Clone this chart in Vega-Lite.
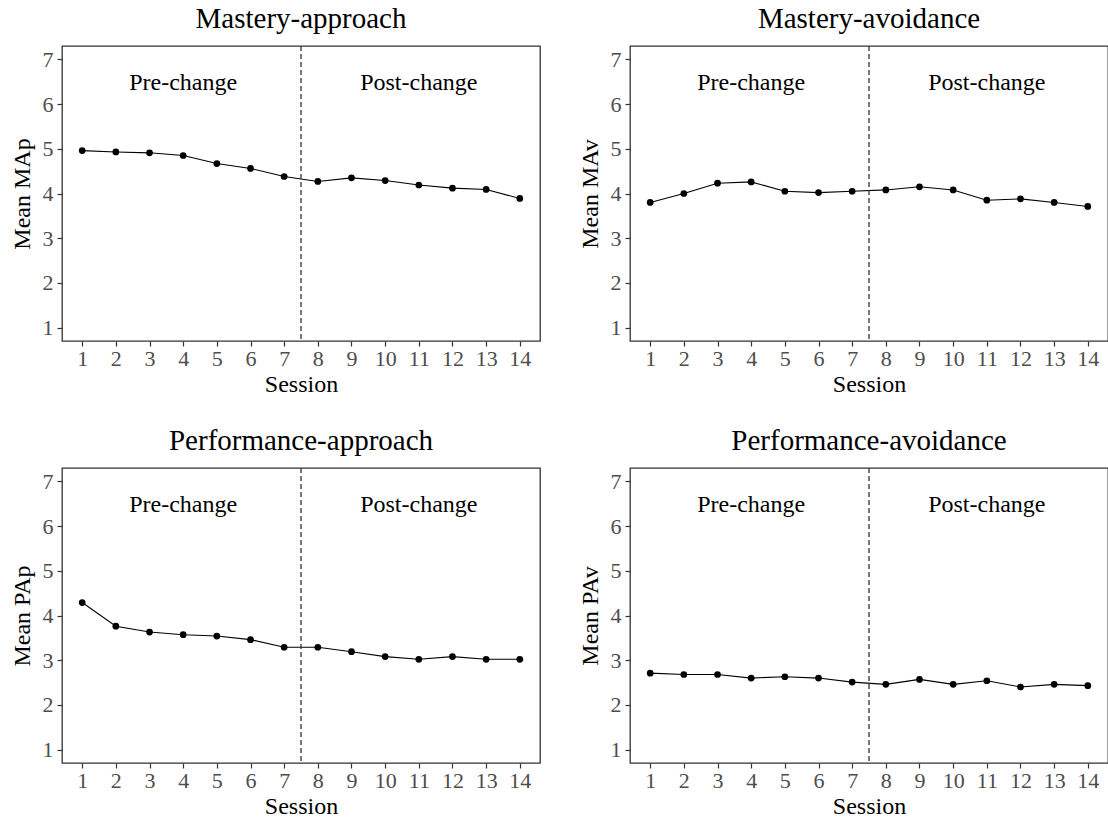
{
  "$schema": "https://vega.github.io/schema/vega-lite/v6.json",
  "padding": {"left": 9, "top": 4, "right": 0, "bottom": 0},
  "background": "white",
  "datasets": {
    "goals": [
      {"goal": "MAp", "session": 1, "mean": 4.96},
      {"goal": "MAp", "session": 2, "mean": 4.93},
      {"goal": "MAp", "session": 3, "mean": 4.91},
      {"goal": "MAp", "session": 4, "mean": 4.85},
      {"goal": "MAp", "session": 5, "mean": 4.67},
      {"goal": "MAp", "session": 6, "mean": 4.56},
      {"goal": "MAp", "session": 7, "mean": 4.38},
      {"goal": "MAp", "session": 8, "mean": 4.27},
      {"goal": "MAp", "session": 9, "mean": 4.35},
      {"goal": "MAp", "session": 10, "mean": 4.29},
      {"goal": "MAp", "session": 11, "mean": 4.19},
      {"goal": "MAp", "session": 12, "mean": 4.12},
      {"goal": "MAp", "session": 13, "mean": 4.09},
      {"goal": "MAp", "session": 14, "mean": 3.89},
      {"goal": "MAv", "session": 1, "mean": 3.80},
      {"goal": "MAv", "session": 2, "mean": 4.00},
      {"goal": "MAv", "session": 3, "mean": 4.23},
      {"goal": "MAv", "session": 4, "mean": 4.26},
      {"goal": "MAv", "session": 5, "mean": 4.05},
      {"goal": "MAv", "session": 6, "mean": 4.02},
      {"goal": "MAv", "session": 7, "mean": 4.05},
      {"goal": "MAv", "session": 8, "mean": 4.08},
      {"goal": "MAv", "session": 9, "mean": 4.15},
      {"goal": "MAv", "session": 10, "mean": 4.08},
      {"goal": "MAv", "session": 11, "mean": 3.85},
      {"goal": "MAv", "session": 12, "mean": 3.88},
      {"goal": "MAv", "session": 13, "mean": 3.80},
      {"goal": "MAv", "session": 14, "mean": 3.71},
      {"goal": "PAp", "session": 1, "mean": 4.29},
      {"goal": "PAp", "session": 2, "mean": 3.76},
      {"goal": "PAp", "session": 3, "mean": 3.63},
      {"goal": "PAp", "session": 4, "mean": 3.57},
      {"goal": "PAp", "session": 5, "mean": 3.54},
      {"goal": "PAp", "session": 6, "mean": 3.46},
      {"goal": "PAp", "session": 7, "mean": 3.29},
      {"goal": "PAp", "session": 8, "mean": 3.29},
      {"goal": "PAp", "session": 9, "mean": 3.19},
      {"goal": "PAp", "session": 10, "mean": 3.08},
      {"goal": "PAp", "session": 11, "mean": 3.02},
      {"goal": "PAp", "session": 12, "mean": 3.08},
      {"goal": "PAp", "session": 13, "mean": 3.02},
      {"goal": "PAp", "session": 14, "mean": 3.02},
      {"goal": "PAv", "session": 1, "mean": 2.71},
      {"goal": "PAv", "session": 2, "mean": 2.68},
      {"goal": "PAv", "session": 3, "mean": 2.68},
      {"goal": "PAv", "session": 4, "mean": 2.60},
      {"goal": "PAv", "session": 5, "mean": 2.63},
      {"goal": "PAv", "session": 6, "mean": 2.60},
      {"goal": "PAv", "session": 7, "mean": 2.51},
      {"goal": "PAv", "session": 8, "mean": 2.46},
      {"goal": "PAv", "session": 9, "mean": 2.57},
      {"goal": "PAv", "session": 10, "mean": 2.46},
      {"goal": "PAv", "session": 11, "mean": 2.54},
      {"goal": "PAv", "session": 12, "mean": 2.40},
      {"goal": "PAv", "session": 13, "mean": 2.46},
      {"goal": "PAv", "session": 14, "mean": 2.43}
    ]
  },
  "columns": 2,
  "spacing": {"row": 29, "column": 36},
  "concat": [
    {
      "title": "Mastery-approach",
      "width": 478, "height": 295,
      "layer": [
        {"data": {"name": "goals"}, "transform": [{"filter": "datum.goal === 'MAp'"}], "mark": {"type": "line", "color": "black", "strokeWidth": 1.1},
         "encoding": {
           "x": {"field": "session", "type": "quantitative", "scale": {"domain": [0.4, 14.6], "nice": false, "zero": false}, "axis": {"values": [1,2,3,4,5,6,7,8,9,10,11,12,13,14], "labelOverlap": false, "title": "Session"}},
           "y": {"field": "mean", "type": "quantitative", "scale": {"domain": [0.7, 7.3], "nice": false, "zero": false}, "axis": {"values": [1,2,3,4,5,6,7], "labelOverlap": false, "title": "Mean MAp"}}
         }},
        {"data": {"values": [{}]}, "mark": {"type": "rule", "strokeDash": [5, 3], "color": "#333333", "strokeWidth": 1.3}, "encoding": {"x": {"datum": 7.5, "type": "quantitative", "axis": {"values": [1,2,3,4,5,6,7,8,9,10,11,12,13,14], "labelOverlap": false, "title": "Session"}}}},
        {"data": {"values": [{}]}, "mark": {"type": "text", "fontSize": 24, "baseline": "alphabetic", "color": "black"}, "encoding": {"x": {"datum": 4, "type": "quantitative", "axis": {"values": [1,2,3,4,5,6,7,8,9,10,11,12,13,14], "labelOverlap": false, "title": "Session"}}, "y": {"datum": 6.31, "type": "quantitative", "axis": {"values": [1,2,3,4,5,6,7], "labelOverlap": false, "title": "Mean MAp"}}, "text": {"value": "Pre-change"}}},
        {"data": {"values": [{}]}, "mark": {"type": "text", "fontSize": 24, "baseline": "alphabetic", "color": "black"}, "encoding": {"x": {"datum": 11, "type": "quantitative", "axis": {"values": [1,2,3,4,5,6,7,8,9,10,11,12,13,14], "labelOverlap": false, "title": "Session"}}, "y": {"datum": 6.31, "type": "quantitative", "axis": {"values": [1,2,3,4,5,6,7], "labelOverlap": false, "title": "Mean MAp"}}, "text": {"value": "Post-change"}}},
        {"data": {"name": "goals"}, "transform": [{"filter": "datum.goal === 'MAp'"}], "mark": {"type": "point", "filled": true, "size": 45, "color": "black", "opacity": 1},
         "encoding": {"x": {"field": "session", "type": "quantitative", "axis": {"values": [1,2,3,4,5,6,7,8,9,10,11,12,13,14], "labelOverlap": false, "title": "Session"}}, "y": {"field": "mean", "type": "quantitative", "axis": {"values": [1,2,3,4,5,6,7], "labelOverlap": false, "title": "Mean MAp"}}}}
      ]
    },
    {
      "title": "Mastery-avoidance",
      "width": 478, "height": 295,
      "layer": [
        {"data": {"name": "goals"}, "transform": [{"filter": "datum.goal === 'MAv'"}], "mark": {"type": "line", "color": "black", "strokeWidth": 1.1},
         "encoding": {
           "x": {"field": "session", "type": "quantitative", "scale": {"domain": [0.4, 14.6], "nice": false, "zero": false}, "axis": {"values": [1,2,3,4,5,6,7,8,9,10,11,12,13,14], "labelOverlap": false, "title": "Session"}},
           "y": {"field": "mean", "type": "quantitative", "scale": {"domain": [0.7, 7.3], "nice": false, "zero": false}, "axis": {"values": [1,2,3,4,5,6,7], "labelOverlap": false, "title": "Mean MAv"}}
         }},
        {"data": {"values": [{}]}, "mark": {"type": "rule", "strokeDash": [5, 3], "color": "#333333", "strokeWidth": 1.3}, "encoding": {"x": {"datum": 7.5, "type": "quantitative", "axis": {"values": [1,2,3,4,5,6,7,8,9,10,11,12,13,14], "labelOverlap": false, "title": "Session"}}}},
        {"data": {"values": [{}]}, "mark": {"type": "text", "fontSize": 24, "baseline": "alphabetic", "color": "black"}, "encoding": {"x": {"datum": 4, "type": "quantitative", "axis": {"values": [1,2,3,4,5,6,7,8,9,10,11,12,13,14], "labelOverlap": false, "title": "Session"}}, "y": {"datum": 6.31, "type": "quantitative", "axis": {"values": [1,2,3,4,5,6,7], "labelOverlap": false, "title": "Mean MAv"}}, "text": {"value": "Pre-change"}}},
        {"data": {"values": [{}]}, "mark": {"type": "text", "fontSize": 24, "baseline": "alphabetic", "color": "black"}, "encoding": {"x": {"datum": 11, "type": "quantitative", "axis": {"values": [1,2,3,4,5,6,7,8,9,10,11,12,13,14], "labelOverlap": false, "title": "Session"}}, "y": {"datum": 6.31, "type": "quantitative", "axis": {"values": [1,2,3,4,5,6,7], "labelOverlap": false, "title": "Mean MAv"}}, "text": {"value": "Post-change"}}},
        {"data": {"name": "goals"}, "transform": [{"filter": "datum.goal === 'MAv'"}], "mark": {"type": "point", "filled": true, "size": 45, "color": "black", "opacity": 1},
         "encoding": {"x": {"field": "session", "type": "quantitative", "axis": {"values": [1,2,3,4,5,6,7,8,9,10,11,12,13,14], "labelOverlap": false, "title": "Session"}}, "y": {"field": "mean", "type": "quantitative", "axis": {"values": [1,2,3,4,5,6,7], "labelOverlap": false, "title": "Mean MAv"}}}}
      ]
    },
    {
      "title": "Performance-approach",
      "width": 478, "height": 295,
      "layer": [
        {"data": {"name": "goals"}, "transform": [{"filter": "datum.goal === 'PAp'"}], "mark": {"type": "line", "color": "black", "strokeWidth": 1.1},
         "encoding": {
           "x": {"field": "session", "type": "quantitative", "scale": {"domain": [0.4, 14.6], "nice": false, "zero": false}, "axis": {"values": [1,2,3,4,5,6,7,8,9,10,11,12,13,14], "labelOverlap": false, "title": "Session"}},
           "y": {"field": "mean", "type": "quantitative", "scale": {"domain": [0.7, 7.3], "nice": false, "zero": false}, "axis": {"values": [1,2,3,4,5,6,7], "labelOverlap": false, "title": "Mean PAp"}}
         }},
        {"data": {"values": [{}]}, "mark": {"type": "rule", "strokeDash": [5, 3], "color": "#333333", "strokeWidth": 1.3}, "encoding": {"x": {"datum": 7.5, "type": "quantitative", "axis": {"values": [1,2,3,4,5,6,7,8,9,10,11,12,13,14], "labelOverlap": false, "title": "Session"}}}},
        {"data": {"values": [{}]}, "mark": {"type": "text", "fontSize": 24, "baseline": "alphabetic", "color": "black"}, "encoding": {"x": {"datum": 4, "type": "quantitative", "axis": {"values": [1,2,3,4,5,6,7,8,9,10,11,12,13,14], "labelOverlap": false, "title": "Session"}}, "y": {"datum": 6.31, "type": "quantitative", "axis": {"values": [1,2,3,4,5,6,7], "labelOverlap": false, "title": "Mean PAp"}}, "text": {"value": "Pre-change"}}},
        {"data": {"values": [{}]}, "mark": {"type": "text", "fontSize": 24, "baseline": "alphabetic", "color": "black"}, "encoding": {"x": {"datum": 11, "type": "quantitative", "axis": {"values": [1,2,3,4,5,6,7,8,9,10,11,12,13,14], "labelOverlap": false, "title": "Session"}}, "y": {"datum": 6.31, "type": "quantitative", "axis": {"values": [1,2,3,4,5,6,7], "labelOverlap": false, "title": "Mean PAp"}}, "text": {"value": "Post-change"}}},
        {"data": {"name": "goals"}, "transform": [{"filter": "datum.goal === 'PAp'"}], "mark": {"type": "point", "filled": true, "size": 45, "color": "black", "opacity": 1},
         "encoding": {"x": {"field": "session", "type": "quantitative", "axis": {"values": [1,2,3,4,5,6,7,8,9,10,11,12,13,14], "labelOverlap": false, "title": "Session"}}, "y": {"field": "mean", "type": "quantitative", "axis": {"values": [1,2,3,4,5,6,7], "labelOverlap": false, "title": "Mean PAp"}}}}
      ]
    },
    {
      "title": "Performance-avoidance",
      "width": 478, "height": 295,
      "layer": [
        {"data": {"name": "goals"}, "transform": [{"filter": "datum.goal === 'PAv'"}], "mark": {"type": "line", "color": "black", "strokeWidth": 1.1},
         "encoding": {
           "x": {"field": "session", "type": "quantitative", "scale": {"domain": [0.4, 14.6], "nice": false, "zero": false}, "axis": {"values": [1,2,3,4,5,6,7,8,9,10,11,12,13,14], "labelOverlap": false, "title": "Session"}},
           "y": {"field": "mean", "type": "quantitative", "scale": {"domain": [0.7, 7.3], "nice": false, "zero": false}, "axis": {"values": [1,2,3,4,5,6,7], "labelOverlap": false, "title": "Mean PAv"}}
         }},
        {"data": {"values": [{}]}, "mark": {"type": "rule", "strokeDash": [5, 3], "color": "#333333", "strokeWidth": 1.3}, "encoding": {"x": {"datum": 7.5, "type": "quantitative", "axis": {"values": [1,2,3,4,5,6,7,8,9,10,11,12,13,14], "labelOverlap": false, "title": "Session"}}}},
        {"data": {"values": [{}]}, "mark": {"type": "text", "fontSize": 24, "baseline": "alphabetic", "color": "black"}, "encoding": {"x": {"datum": 4, "type": "quantitative", "axis": {"values": [1,2,3,4,5,6,7,8,9,10,11,12,13,14], "labelOverlap": false, "title": "Session"}}, "y": {"datum": 6.31, "type": "quantitative", "axis": {"values": [1,2,3,4,5,6,7], "labelOverlap": false, "title": "Mean PAv"}}, "text": {"value": "Pre-change"}}},
        {"data": {"values": [{}]}, "mark": {"type": "text", "fontSize": 24, "baseline": "alphabetic", "color": "black"}, "encoding": {"x": {"datum": 11, "type": "quantitative", "axis": {"values": [1,2,3,4,5,6,7,8,9,10,11,12,13,14], "labelOverlap": false, "title": "Session"}}, "y": {"datum": 6.31, "type": "quantitative", "axis": {"values": [1,2,3,4,5,6,7], "labelOverlap": false, "title": "Mean PAv"}}, "text": {"value": "Post-change"}}},
        {"data": {"name": "goals"}, "transform": [{"filter": "datum.goal === 'PAv'"}], "mark": {"type": "point", "filled": true, "size": 45, "color": "black", "opacity": 1},
         "encoding": {"x": {"field": "session", "type": "quantitative", "axis": {"values": [1,2,3,4,5,6,7,8,9,10,11,12,13,14], "labelOverlap": false, "title": "Session"}}, "y": {"field": "mean", "type": "quantitative", "axis": {"values": [1,2,3,4,5,6,7], "labelOverlap": false, "title": "Mean PAv"}}}}
      ]
    }
  ],
  "config": {
    "font": "Liberation Serif",
    "view": {"stroke": "#333333", "strokeWidth": 1.3},
    "axis": {
      "grid": false, "domain": false, "tickColor": "#333333", "tickSize": 5, "tickWidth": 1.2,
      "labelFont": "Liberation Serif", "labelFontSize": 22, "labelColor": "#4D4D4D", "labelPadding": 2, "labelFlush": false, "labelOverlap": false,
      "titleFont": "Liberation Serif", "titleFontSize": 24, "titleFontWeight": "normal", "titleColor": "black", "titlePadding": 3
    },
    "axisY": {"labelPadding": 4, "titlePadding": 8},
    "title": {"font": "Liberation Serif", "fontSize": 29, "fontWeight": "normal", "color": "black", "baseline": "alphabetic", "offset": 11, "anchor": "middle"}
  }
}
